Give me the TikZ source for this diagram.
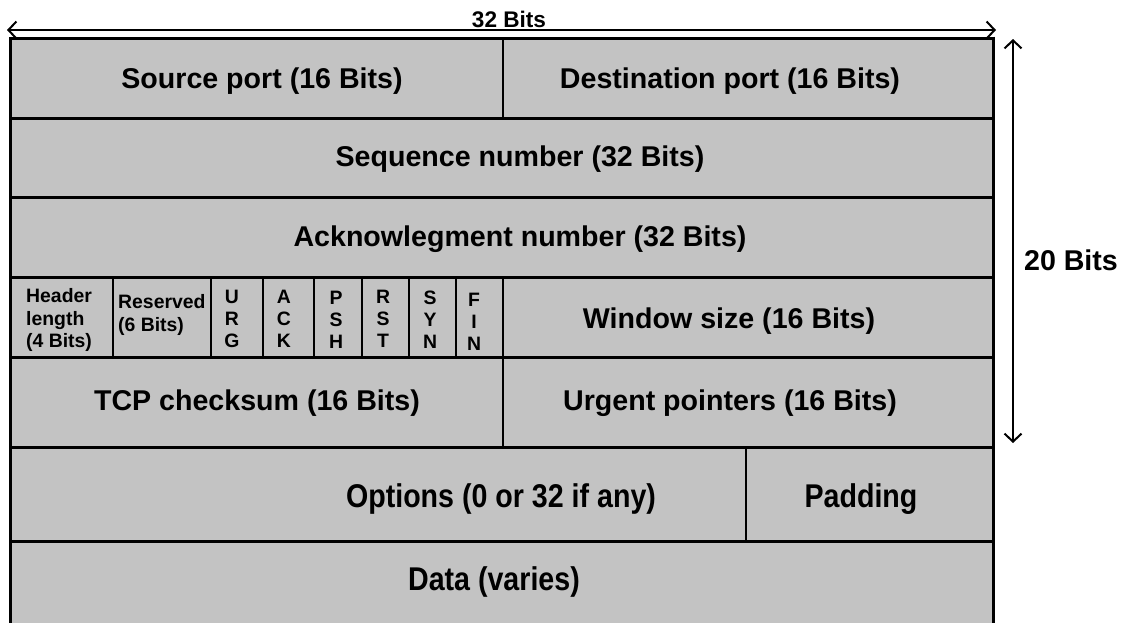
\documentclass[tikz,border=0pt]{standalone}
\usepackage{fontspec}
\setmainfont{Liberation Sans}
\usetikzlibrary{arrows.meta}
\definecolor{cellgray}{RGB}{195,195,195}
\begin{document}
\begin{tikzpicture}[x=1pt,y=-1pt,
  big/.style={font=\bfseries\fontsize{28.6}{34}\selectfont, inner sep=0},
  small/.style={font=\bfseries\fontsize{19.4}{22.8}\selectfont, inner sep=0, align=left},
  flag/.style={font=\bfseries\fontsize{19.4}{22}\selectfont, inner sep=0, align=center},
  hline/.style={line width=3pt},
  vline/.style={line width=2.5pt},
  dimarrow/.style={line width=2pt, {Straight Barb[length=8pt,width=17pt]}-{Straight Barb[length=8pt,width=17pt]}}
]
\useasboundingbox (0,0) rectangle (1123,622);
\clip (0,0) rectangle (1123,622);
% fill and frame
\fill[cellgray] (10,38) rectangle (993,660);
\draw[hline] (10,38) -- (993,38);
\draw[hline] (10,36.5) -- (10,660);
\draw[hline] (993,36.5) -- (993,660);
\foreach \yy in {118,197,277,357,447,541}
  \draw[hline] (10,\yy) -- (993,\yy);
% vertical splits
\draw[vline] (503,38) -- (503,118);
\foreach \xx in {113,211,263,314,362,409,456,503}
  \draw[vline] (\xx,277) -- (\xx,357);
\draw[vline] (503,357) -- (503,447);
\draw[vline] (746,447) -- (746,541);
% labels
\node[big] (src) at (262,81) {Source port (16 Bits)};
\node[big] (dst) at (730,81) {Destination port (16 Bits)};
\node[big] (seq) at (520,159) {Sequence number (32 Bits)};
\node[big] (ack) at (520,239) {Acknowlegment number (32 Bits)};
\node[small, anchor=west] (hlen) at (26,320) {Header\\length\\(4 Bits)};
\node[small, anchor=west] (res) at (118,315) {Reserved\\(6 Bits)};
\node[flag] (urg) at (232,319) {U\\R\\G};
\node[flag] (ackf) at (284,319) {A\\C\\K};
\node[flag] (psh) at (336,320) {P\\S\\H};
\node[flag] (rst) at (383,319) {R\\S\\T};
\node[flag] (syn) at (430,320) {S\\Y\\N};
\node[flag] (fin) at (474,322) {F\\I\\N};
\node[big] (win) at (729,321) {Window size (16 Bits)};
\node[big] (chk) at (257,403) {TCP checksum (16 Bits)};
\node[big] (urgp) at (730,403) {Urgent pointers (16 Bits)};
\node[big] (opt) at (501,499) {\scalebox{1}[1.15]{Options (0 or 32 if any)}};
\node[big] (pad) at (861,499) {\scalebox{1}[1.15]{Padding}};
\node[big] (data) at (494,582) {\scalebox{1}[1.15]{Data (varies)}};
% dimension arrows
\coordinate (tl) at (7,30);
\coordinate (tr) at (996,30);
\draw[dimarrow] (tl) -- (tr);
\node[font=\bfseries\fontsize{22.6}{26}\selectfont, inner sep=0] (w32) at (509,19) {32 Bits};
\coordinate (vt) at (1013,39);
\coordinate (vb) at (1013,443);
\draw[dimarrow] (vt) -- (vb);
\node[big] (h20) at (1071,260) {20 Bits};
\end{tikzpicture}
\end{document}
